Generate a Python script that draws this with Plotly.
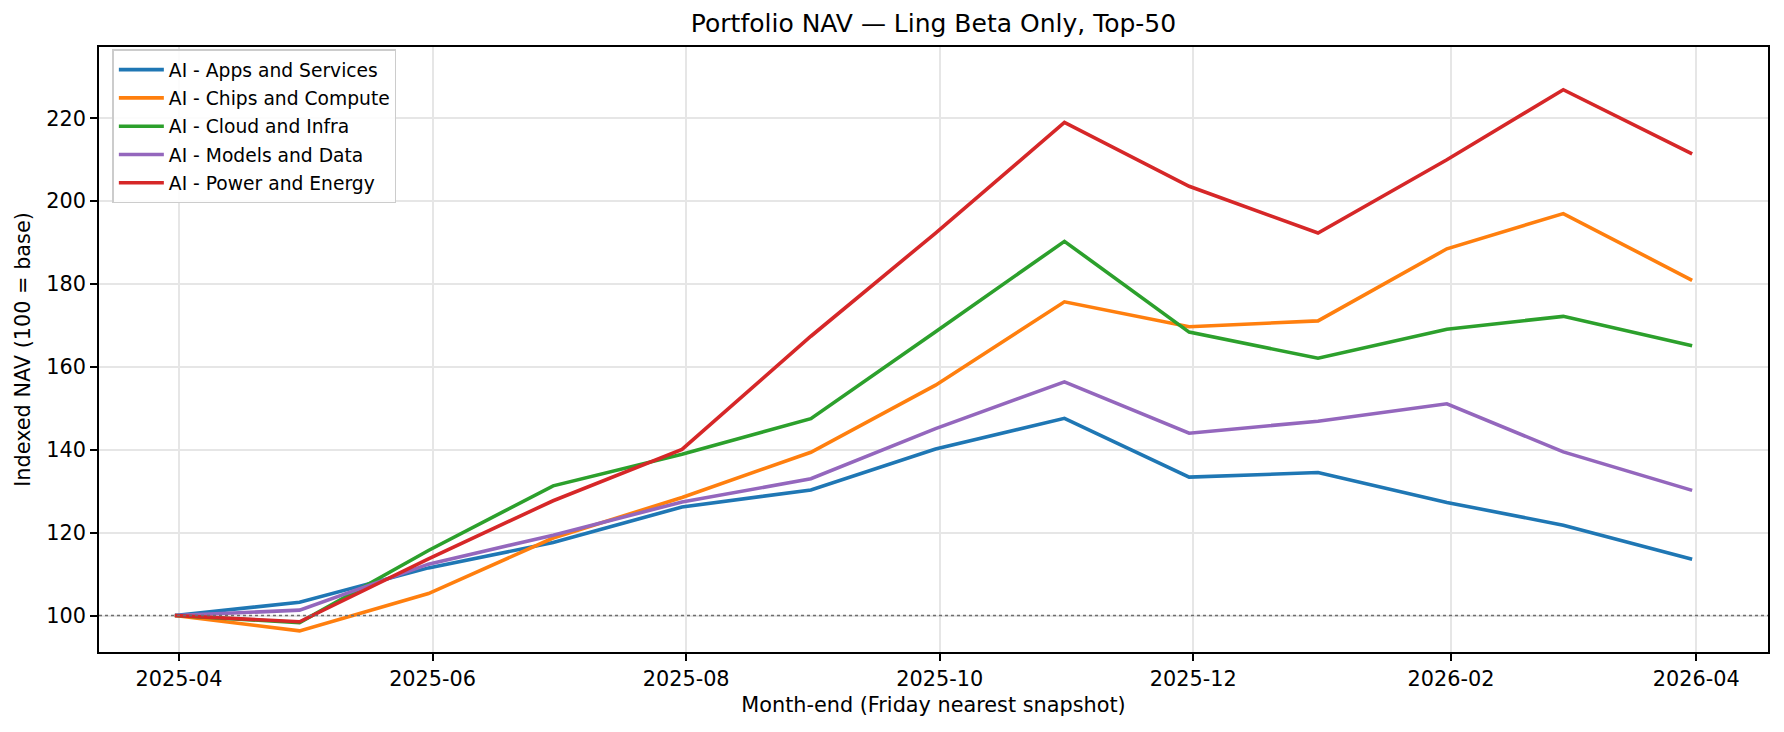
import plotly.graph_objects as go

# ---- data ----
dates = ["2025-03-31", "2025-04-30", "2025-05-31", "2025-06-30", "2025-07-31",
         "2025-08-31", "2025-09-30", "2025-10-31", "2025-11-30", "2025-12-31",
         "2026-01-31", "2026-02-28", "2026-03-31"]
apps_services = [100, 103.2, 111.5, 117.6, 126.2, 130.3, 140.2, 147.6, 133.4, 134.5, 127.3, 121.8, 113.6]
chips_compute = [100, 96.3, 105.3, 118.7, 128.5, 139.4, 155.6, 175.7, 169.7, 171.1, 188.5, 197.0, 180.9]
cloud_infra = [100, 98.3, 115.7, 131.3, 138.9, 147.5, 168.5, 190.3, 168.4, 162.1, 169.1, 172.2, 165.1]
models_data = [100, 101.3, 112.4, 119.4, 127.4, 133.0, 145.1, 156.4, 144.0, 146.9, 151.1, 139.5, 130.2]
power_energy = [100, 98.5, 113.7, 127.7, 140.1, 167.4, 192.3, 219.0, 203.6, 192.3, 210.0, 226.9, 211.4]
series_names = ["AI - Apps and Services", "AI - Chips and Compute", "AI - Cloud and Infra",
                "AI - Models and Data", "AI - Power and Energy"]
series_values = [apps_services, chips_compute, cloud_infra, models_data, power_energy]
colors = ["#1f77b4", "#ff7f0e", "#2ca02c", "#9467bd", "#d62728"]
BASE = 100
y_ticks = [100, 120, 140, 160, 180, 200, 220]

FONT = "DejaVu Sans"
# the page body has an 8px margin, so the figure is drawn 8px smaller
W, H = 1776, 724

fig = go.Figure()
for i, (name, vals) in enumerate(zip(series_names, series_values)):
    fig.add_trace(go.Scatter(x=dates, y=vals, mode="lines", name=name,
                             legendgroup=f"g{i}",
                             line=dict(color=colors[i], width=3.6)))

fig.add_hline(y=BASE, line=dict(color="#6e6e6e", width=1.5, dash="dot"), layer="above")

axis_common = dict(showline=True, linecolor="black", linewidth=1.7, mirror=True,
                   ticks="outside", ticklen=7, tickwidth=1.7, tickcolor="black",
                   showgrid=True, gridcolor="#e6e6e6", gridwidth=1.6, zeroline=False,
                   tickfont=dict(family=FONT, size=20.8, color="black"))

fig.update_layout(
    width=W, height=H,
    paper_bgcolor="white", plot_bgcolor="white",
    margin=dict(l=91, r=16, t=38.5, b=80),
    font=dict(family=FONT, color="black"),
    title=dict(text="Portfolio NAV — Ling Beta Only, Top-50", x=(91 + (W - 16 - 91) / 2) / W,
               xanchor="center", y=1 - 15 / H, yanchor="middle", yref="container",
               font=dict(family=FONT, size=25, color="black")),
    xaxis=dict(axis_common, type="date", range=["2025-03-12 18:00", "2026-04-18 06:00"],
               tick0="2025-04-01", dtick="M2", tickformat="%Y-%m",
               title=dict(text="Month-end (Friday nearest snapshot)", standoff=8,
                          font=dict(family=FONT, size=20.8, color="black"))),
    yaxis=dict(axis_common, range=[91.2, 237.2], tickvals=y_ticks,
               title=dict(text="Indexed NAV (100 = base)", standoff=10,
                          font=dict(family=FONT, size=20.8, color="black"))),
    legend=dict(x=0.008, y=0.996, xanchor="left", yanchor="top",
                bgcolor="rgba(255,255,255,0.85)", bordercolor="#cccccc", borderwidth=1.5,
                font=dict(family=FONT, size=18.7, color="black"),
                tracegroupgap=1, itemwidth=45),
    showlegend=True,
)

fig.write_html("out.html")
